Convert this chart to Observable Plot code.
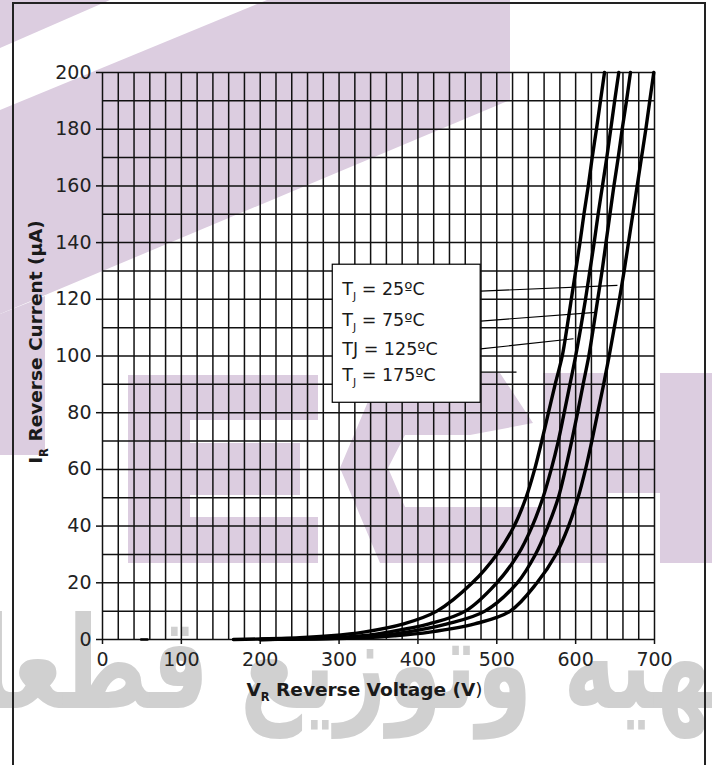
<!DOCTYPE html>
<html>
<head>
<meta charset="utf-8">
<script src="https://cdn.jsdelivr.net/npm/d3@7"></script>
<script src="https://cdn.jsdelivr.net/npm/@observablehq/plot@0.6"></script>
<style>
  html, body { margin: 0; padding: 0; background: #fff; }
  #wrap { position: relative; width: 712px; height: 765px; overflow: hidden; background: #fff; }
  #wm { position: absolute; left: 0; top: 0; }
  #arabic { position: absolute; right: -35px; top: 600px; white-space: nowrap; direction: rtl;
            font-family: "DejaVu Sans"; font-weight: bold; font-size: 128px; color: #d0d0d0; line-height: 1;
            transform: scaleX(0.7); transform-origin: right top; }
  #frame { position: absolute; left: 12px; top: 2px; width: 694px; height: 820px; border: 2px solid #222; box-sizing: border-box; }
  #chart { position: absolute; left: 0; top: 0; }
</style>
</head>
<body>
<div id="wrap">
  <svg id="wm" width="712" height="765">
    <g fill="#dccde0">
      <polygon points="0,0 110,0 0,48"/>
      <polygon points="267,0 510,0 510,100 0,314 0,110"/>
      <polygon points="0,314 45,296 45,455 0,455"/>
      <path d="M128,375H318V420H190V443H300V495H190V517H318V563H128Z"/>
      <polygon points="380,373 500,373 533,423 470,435 405,435 388,468 405,507 543,507 543,563 380,563 340,468"/>
      <path d="M543,373H607V440H660V373H712V563H660V493H607V563H543Z"/>
    </g>
  </svg>
  <div id="arabic">تهیه وتوزیع قطعات</div>
  <div id="frame"></div>
  <div id="chart"></div>
</div>
<script>
// ---- data ----
const xTicks = [0, 100, 200, 300, 400, 500, 600, 700];
const yTicks = [0, 20, 40, 60, 80, 100, 120, 140, 160, 180, 200];

// reverse current levels (µA) and the voltage (V) at which each curve reaches them
const seriesNames = ["175ºC", "125ºC", "75ºC", "25ºC"];
const current = [0, 0.6, 1.3, 2.6, 5.5, 10, 20, 30, 40, 50, 60, 70, 80, 90, 100, 110, 120, 130, 140, 150, 160, 170, 180, 190, 200];
const v175 = [166, 250, 290, 331, 382, 424, 469, 500, 522, 537, 548, 557, 565.5, 574, 583, 589, 594.5, 600, 605.5, 610.5, 616, 621, 626.4, 631.5, 636.6];
const v125 = [200, 295, 330, 362, 414, 460, 500, 527, 545, 558.5, 569, 578, 585.5, 592.8, 600, 606.5, 612.5, 618, 623.5, 628.5, 634, 639.5, 644.5, 649.5, 654.7];
const v75  = [200, 312, 350, 386, 437, 485, 526, 549, 565, 578, 587, 595, 602.5, 609.5, 616.7, 622.5, 628, 633.5, 638.5, 643.5, 648.5, 654, 659, 664.5, 669.5];
const v25  = [200, 330, 370, 415, 472, 517, 551, 575, 591, 603, 612.5, 620.5, 628, 635.5, 642.5, 649, 655.5, 661.5, 667, 672.5, 678, 683.5, 689, 694, 699.1];
const baselineDashV = [49, 57];

// legend
const legendMain = ["T", "T", "TJ", "T"];
const legendSub  = ["J", "J", "", "J"];
const legendRest = [" = 25ºC", " = 75ºC", " = 125ºC", " = 175ºC"];
// leader lines (V, µA) from legend edge toward curves
const leaderV1 = [479.6, 479.6, 479.6, 479.6];
const leaderI1 = [122.9, 112.3, 102.5, 94.3];
const leaderV2 = [653, 625.2, 597.3, 525];
const leaderI2 = [124.9, 115.4, 106.1, 94.3];
const legendBoxV = [292, 479.6];
const legendBoxI = [83.5, 132.2];
const legendTextV = 304;
const legendTextI = [123.6, 112.6, 102.4, 93.1];

const xTitle = [{t: "V"}, {t: "R", sub: true}, {t: " Reverse Voltage (V"}, {t: ")", weight: "normal"}];
const yTitle = [{t: "I"}, {t: "R", sub: true}, {t: " Reverse Current (µA)"}];

// ---- build tables ----
const allV = [v175, v125, v75, v25];
const curves = [];
allV.forEach((vs, k) => vs.forEach((v, i) => curves.push({series: seriesNames[k], V: v, I: current[i]})));
const dash = baselineDashV.map(v => ({V: v, I: 0}));
const leaders = leaderV1.map((v, i) => ({x1: v, y1: leaderI1[i], x2: leaderV2[i], y2: leaderI2[i]}));
const legendRows = legendMain.map((m, i) => ({main: m, sub: legendSub[i], rest: legendRest[i], I: legendTextI[i]}));
const joinParts = ps => ps.map(p => p.t).join("");

const ink = "#111";
const plot = Plot.plot({
  width: 712, height: 765,
  marginLeft: 102, marginRight: 58, marginTop: 72, marginBottom: 126,
  style: {background: "transparent", fontFamily: "DejaVu Sans, Verdana, sans-serif", color: ink, overflow: "visible"},
  x: {domain: [0, 700]},
  y: {domain: [0, 200]},
  marks: [
    Plot.gridX(d3.range(0, 701, 20), {stroke: ink, strokeOpacity: 1, strokeWidth: 1.5}),
    Plot.gridY(d3.range(0, 201, 10), {stroke: ink, strokeOpacity: 1, strokeWidth: 1.5}),
    Plot.axisX(xTicks, {tickSize: 5, tickPadding: 8, fontSize: 19, label: null, strokeWidth: 1.5, fill: "#222"}),
    Plot.axisY(yTicks, {tickSize: 6, tickPadding: 5, fontSize: 19, label: null, strokeWidth: 1.5, fill: "#222"}),
    Plot.line(curves, {x: "V", y: "I", z: "series", stroke: "#000", strokeWidth: 3.4, curve: "catmull-rom"}),
    Plot.line(dash, {x: "V", y: "I", stroke: "#000", strokeWidth: 2.5}),
    Plot.link(leaders, {x1: "x1", y1: "y1", x2: "x2", y2: "y2", stroke: "#000", strokeWidth: 1.1}),
    Plot.rect([0], {x1: () => legendBoxV[0], x2: () => legendBoxV[1], y1: () => legendBoxI[0], y2: () => legendBoxI[1], fill: "#fff", stroke: "#000", strokeWidth: 1.2}),
    Plot.text(legendRows, {x: () => legendTextV, y: "I", text: d => d.main + d.sub + d.rest, textAnchor: "start", fontSize: 17.5, fill: "#1a1a1a"}),
    Plot.text([joinParts(xTitle)], {frameAnchor: "bottom", textAnchor: "middle", dx: -14, dy: 56, fontSize: 18.5, fontWeight: "bold", fill: "#1a1a1a"}),
    Plot.text([joinParts(yTitle)], {frameAnchor: "left", textAnchor: "middle", rotate: -90, dx: -66, dy: -14, fontSize: 18.5, fontWeight: "bold", fill: "#1a1a1a"})
  ]
});
document.getElementById("chart").appendChild(plot);

// ---- subscripts as tspans ----
function rich(textEl, parts, fs) {
  while (textEl.firstChild) textEl.removeChild(textEl.firstChild);
  const t = d3.select(textEl);
  let shifted = false;
  const drop = fs * 0.28;
  parts.forEach(p => {
    if (!p.t) return;
    const ts = t.append("tspan").text(p.t);
    if (p.sub) { ts.attr("font-size", fs * 0.62).attr("dy", drop); shifted = true; }
    else if (shifted) { ts.attr("dy", -drop); shifted = false; }
    if (p.weight) ts.attr("font-weight", p.weight);
  });
}
const xs = joinParts(xTitle), ys = joinParts(yTitle);
d3.select(plot).selectAll("text").each(function() {
  const s = this.textContent;
  if (s === xs) rich(this, xTitle, 18.5);
  else if (s === ys) rich(this, yTitle, 18.5);
  else {
    const r = legendRows.find(r => r.main + r.sub + r.rest === s);
    if (r) rich(this, [{t: r.main}, {t: r.sub, sub: true}, {t: r.rest}], 17.5);
  }
});
</script>
</body>
</html>
